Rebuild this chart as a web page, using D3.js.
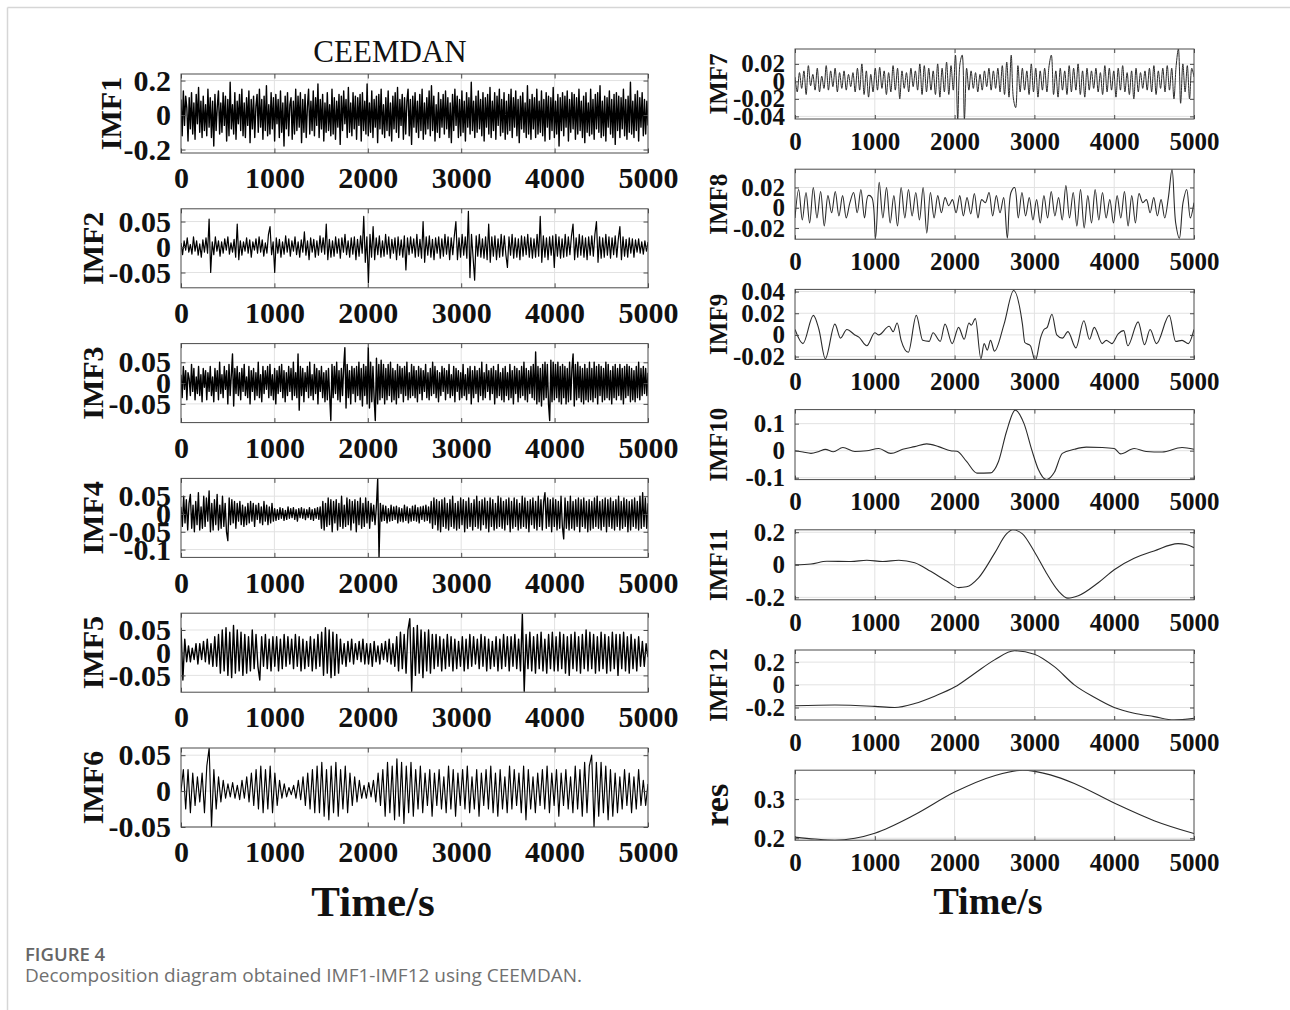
<!DOCTYPE html>
<html>
<head>
<meta charset="utf-8">
<script src="https://cdn.jsdelivr.net/npm/d3@7"></script>
<style>
  body { margin: 0; background: #fff; }
</style>
</head>
<body>
<div id="chart"></div>
<script>
// x axis ticks (time in s)
const xTicks = [0, 1000, 2000, 3000, 4000, 5000];

// IMF1..IMF8: evenly sampled over 0..5000 s
const imf1 = [
  .09,-.12,.14,-.06,.11,.04,-.15,.1,-.08,.13,-.11,.07,-.14,.12,-.05,.16,-.1,.08,-.13,.11,-.09,.06,-.12,.15,-.07,
  .1,-.13,.08,-.18,.12,-.09,.05,.14,-.11,.07,-.1,.13,-.06,.11,-.15,.09,-.12,.19,-.08,.06,-.11,.13,-.14,.08,-.05,
  .12,-.09,.15,-.12,.07,-.13,.1,-.06,.14,-.16,.09,-.08,.11,-.13,.05,.12,-.1,.15,-.07,.09,-.14,.11,-.09,.17,-.12,
  .06,-.11,.13,-.08,.1,-.15,.12,-.05,.09,-.13,.14,-.1,.07,-.18,.11,-.08,.13,-.12,.06,.1,-.14,.08,-.11,.15,-.09,
  .11,-.07,.13,-.16,.09,-.1,.12,-.13,.05,.15,-.11,.08,-.09,.14,-.12,.1,-.06,.18,-.13,.09,-.08,.12,-.15,.07,-.1,
  .13,-.09,.06,-.12,.15,-.11,.1,-.14,.08,-.07,.12,-.17,.11,-.09,.14,-.05,.09,-.13,.16,-.1,.07,-.12,.13,-.08,.11,
  -.14,.1,-.06,.12,-.15,.13,-.09,.08,-.11,.18,-.12,.07,-.1,.14,-.13,.09,-.07,.11,-.16,.12,-.08,.15,-.11,.06,-.13,
  .1,-.09,.14,-.12,.07,-.15,.11,-.08,.13,-.1,.16,-.13,.09,-.06,.12,-.14,.1,-.11,.08,.15,-.12,.09,-.17,.11,-.07,
  .13,-.1,.08,-.13,.12,-.09,.15,-.14,.07,-.11,.1,-.08,.14,-.12,.17,-.09,.11,-.15,.06,-.1,.13,-.13,.09,-.07,.12,
  -.11,.14,-.08,.1,-.13,.07,-.16,.12,-.09,.15,-.06,.11,-.13,.09,-.12,.14,-.1,.08,-.15,.13,-.07,.1,-.11,.19,-.09,
  .08,-.13,.11,-.1,.14,-.08,.09,-.12,.13,-.15,.1,-.07,.12,-.11,.16,-.13,.08,-.09,.13,-.14,.11,-.06,.15,-.12,.09,
  -.1,.13,-.14,.08,-.11,.12,-.09,.15,-.13,.1,-.07,.14,-.12,.09,-.16,.11,-.08,.13,-.1,.07,-.13,.17,-.11,.09,-.14,
  .12,-.08,.1,-.13,.15,-.11,.08,-.1,.14,-.12,.09,-.15,.13,-.07,.11,-.14,.1,-.09,.16,-.13,.08,-.11,.12,-.18,.1,
  -.09,.13,-.12,.11,-.07,.14,-.15,.09,-.1,.13,-.08,.12,-.14,.1,-.11,.15,-.09,.08,-.13,.11,-.16,.13,-.1,.07,-.12,
  .15,-.11,.09,-.14,.12,-.08,.13,-.1,.17,-.13,.08,-.12,.11,-.15,.1,-.07,.14,-.11,.09,-.13,.12,-.17,.13,-.09,.11,
  -.13,.1,-.08,.15,-.12,.09,-.14,.11,-.1,.19,-.11,.08,-.13,.12,-.09,.14,-.15,.1,-.07,.13,-.12,.09,-.11,.08,-.06
];
const imf2 = [
  .008,-.015,.012,-.006,.018,-.01,.005,-.014,.02,-.008,.012,-.016,.006,-.02,.014,-.01,.018,-.012,.055,-.05,.01,-.015,.02,-.008,.012,
  -.018,.01,-.012,.016,-.006,.02,-.014,.008,-.01,.015,-.02,.045,-.025,.012,-.016,.01,-.008,.018,-.012,.014,-.02,.01,-.006,.016,-.012,
  .02,-.01,.014,-.018,.008,-.012,.025,.04,-.015,.01,-.05,.018,-.012,.015,-.02,.01,-.014,.022,-.01,.016,-.018,.012,-.008,.02,-.015,
  .01,-.02,.014,-.01,.03,-.016,.012,-.025,.018,-.01,.015,-.02,.012,-.016,.022,-.01,.018,-.014,.045,-.025,.015,-.02,.012,-.018,.02,
  -.012,.016,-.022,.018,-.01,.025,-.015,.012,-.02,.018,-.014,.02,-.025,.015,-.018,.022,-.012,.06,-.03,.02,-.07,.025,-.02,.04,-.025,
  .018,-.015,.022,-.02,.012,-.018,.025,-.014,.02,-.022,.015,-.012,.018,-.025,.02,-.016,.014,-.02,.022,-.045,.018,-.015,.02,-.012,.016,
  -.02,.025,-.018,.015,-.022,.05,-.03,.02,-.016,.022,-.02,.015,-.025,.018,-.012,.02,-.022,.016,-.018,.025,-.014,.02,-.025,.018,-.015,
  .022,.05,-.025,.018,-.02,.025,-.016,.02,-.022,.07,-.06,.025,-.02,-.065,.022,-.018,.025,-.02,.016,-.022,.02,-.025,.045,-.03,.02,
  -.018,.022,-.025,.016,-.02,.025,-.018,.022,-.015,-.04,.02,-.016,.025,-.022,.018,-.02,.016,-.025,.022,-.018,.02,-.015,.025,-.02,.018,
  -.022,.016,-.02,.025,-.018,.06,-.03,.022,-.02,.018,-.025,.02,-.016,.022,-.04,.025,-.018,.02,-.022,.016,-.02,.025,-.018,.02,-.015,
  .022,.045,-.025,.018,-.02,.025,-.016,.022,-.02,.018,-.025,.02,-.016,.022,-.018,.025,.05,-.03,.02,-.022,.018,-.02,.025,-.016,.02,
  -.022,.018,-.015,.022,-.02,.016,.04,-.025,.02,-.018,.015,-.02,.018,-.012,.016,-.02,.014,-.01,.016,-.012,.01,-.014,.012,-.008,.01
];
const imf3 = [
  .02,-.035,.04,-.015,.03,-.04,.025,.01,-.03,.045,-.02,.035,-.04,.015,-.025,.04,-.03,.02,-.045,.035,-.01,.03,-.04,.025,-.02,
  .04,-.03,.015,-.045,.035,-.02,.03,-.04,.05,-.025,.02,-.035,.04,-.015,.03,-.05,.045,-.03,.02,.07,-.055,.035,-.025,.04,-.03,
  .025,-.04,.035,-.02,.045,-.03,.015,-.035,.04,-.05,.03,-.02,.035,-.04,.025,-.03,.05,-.035,.02,-.045,.04,-.025,.03,-.015,.04,
  -.035,.045,-.03,.02,-.04,.035,-.05,.03,-.025,.04,-.02,.045,-.035,.03,-.045,.025,-.03,.04,-.02,.035,-.04,.05,-.03,.025,-.035,
  .07,-.065,.04,-.03,.035,-.045,.025,-.02,.04,-.035,.05,-.03,.02,-.04,.045,-.025,.035,-.05,.03,-.02,.04,-.035,.025,-.045,.03,
  -.04,.035,-.03,-.09,.045,-.035,.04,-.025,.05,-.04,.03,-.045,.035,-.03,.04,.085,-.06,.045,-.035,.03,-.05,.04,-.025,.035,-.045,
  .04,-.03,.05,-.04,.035,-.055,.045,-.03,.04,-.05,.085,-.06,.05,-.045,.04,-.035,-.09,.06,-.05,.045,-.04,.055,-.035,.045,-.05,
  .035,-.04,.045,-.03,.05,-.045,.035,-.04,.03,-.05,.045,-.035,.04,-.025,.035,-.045,.04,-.03,.05,-.04,.025,-.035,.045,-.03,.04,
  -.035,.03,-.045,.04,-.025,.035,-.04,.03,-.02,.045,-.035,.025,-.04,.035,-.03,.05,-.025,.04,-.035,.03,-.045,.025,-.03,.04,-.02,
  .035,-.04,.03,-.025,.045,-.035,.02,-.03,.04,-.045,.035,-.02,.03,-.04,.025,-.035,.045,-.03,.02,-.04,.035,-.025,.04,-.05,.03,
  -.035,.04,-.025,.03,-.045,.035,-.03,.05,-.04,.025,-.035,.045,-.02,.03,-.04,.035,-.025,.04,-.05,.03,-.035,.045,-.03,.025,-.04,
  .035,-.045,.04,-.03,.025,-.04,.045,-.035,.03,-.05,.04,-.025,.035,-.045,.03,-.035,.04,-.03,.05,-.04,.035,-.045,.03,-.025,.04,
  -.035,.045,-.04,.075,-.05,.04,-.045,.035,-.055,.045,-.04,.05,-.035,.045,-.05,-.09,.055,-.045,.05,-.04,.045,-.035,.05,-.045,.04,
  -.05,.045,-.035,.04,-.05,.035,-.045,.05,-.04,.035,.07,-.055,.045,-.04,.05,-.035,.04,-.045,.035,-.05,.045,-.04,.035,-.045,.05,
  -.04,.035,-.045,.05,-.035,.04,-.05,.045,-.03,.04,-.045,.035,-.04,.05,-.035,.045,-.04,.03,-.05,.04,-.035,.045,-.04,.035,-.03,
  .045,-.04,.035,-.05,.04,-.035,.045,-.03,.04,-.045,.035,-.04,.03,-.045,.04,-.035,.05,-.04,.035,-.03,.04,-.025,.035,-.03,.025
];
const imf4 = [
  .02,-.035,.05,-.025,.04,-.045,.03,.055,-.04,.025,-.05,.035,-.03,.06,-.045,.02,-.04,.05,-.035,.045,-.02,.065,-.05,.03,-.045,
  .04,-.03,.055,-.045,.025,-.04,.05,-.035,.03,-.05,-.075,.045,-.03,.04,-.025,.035,-.04,.03,-.02,.035,-.03,.025,-.035,.02,-.03,
  .03,-.025,.035,-.02,.03,-.035,.025,-.015,.03,-.025,.02,-.03,.035,-.02,.025,-.03,.02,-.025,.03,-.02,.015,-.018,.012,-.015,.018,
  -.012,.015,-.018,.01,-.015,.02,-.012,.015,-.01,.018,-.015,.012,-.02,.015,-.01,.018,-.012,.014,-.016,.012,-.01,.018,-.015,.012,-.018,
  .015,-.012,.018,-.015,.02,-.04,.035,-.045,.03,-.035,.045,-.03,.04,-.05,.035,-.025,.04,-.045,.03,-.035,.05,-.04,.025,-.035,.045,
  -.03,.04,-.045,.035,-.025,.04,-.05,.035,-.03,.045,-.04,.03,-.035,.045,-.025,.035,-.04,.03,-.02,.025,-.03,.02,.1,-.122,.03,
  -.02,.025,-.018,.022,-.025,.015,-.02,.025,-.018,.02,-.015,.022,-.025,.018,-.02,.015,-.022,.025,-.018,.02,-.025,.015,-.02,.022,-.018,
  .025,-.02,.018,-.025,.02,-.015,.022,-.02,.025,-.018,.02,-.025,.035,-.04,.045,-.03,.04,-.045,.035,-.05,.04,-.035,.045,-.04,.03,
  -.045,.04,-.035,.05,-.04,.03,-.045,.035,-.04,.045,-.03,.04,-.05,.035,-.04,.045,-.035,.03,-.045,.04,-.035,.05,-.04,.035,-.045,
  .04,-.03,.045,-.04,.035,-.05,.045,-.035,.04,-.045,.03,-.04,.05,-.035,.045,-.04,.035,-.045,.04,-.03,.045,-.05,.035,-.04,.045,
  -.035,.04,-.045,.03,-.04,.05,-.035,.045,-.04,.035,-.05,.04,-.03,.045,-.04,.035,-.045,.05,-.035,.04,-.045,.035,.06,-.04,.045,
  -.035,.04,-.05,.045,-.035,.04,-.045,.035,-.04,.05,-.035,-.07,.045,-.04,.035,-.045,.05,-.04,.035,-.045,.04,-.035,.045,-.05,.04,
  -.035,.045,-.04,.035,-.05,.04,-.045,.035,-.04,.045,-.035,.05,-.04,.035,-.045,.04,-.035,.045,-.05,.04,-.035,.045,-.04,.035,-.045,
  .04,-.035,.05,-.045,.035,-.04,.045,-.035,.04,-.05,.035,-.045,.04,-.035,.045,-.04,.035,-.045,.05,-.04,.06,-.035,.045,-.04,.03
];
const imf5 = [
  .055,-.06,.03,-.02,.015,-.02,.01,-.015,.02,-.025,.02,-.015,.025,-.02,.03,-.025,.02,-.03,.035,-.03,.04,-.045,.05,-.04,.055,
  -.05,.045,-.055,.06,-.045,.05,-.04,.045,-.05,.04,-.045,.035,-.04,.05,-.035,.04,-.03,-.06,.035,-.03,.04,-.035,.03,-.04,.035,
  -.03,.035,-.04,.03,-.035,.04,-.03,.035,-.025,.03,-.035,.04,-.03,.035,-.04,.03,-.035,.025,-.03,.035,-.04,.03,-.035,.04,-.03,
  .045,-.05,.055,-.045,.05,-.055,.045,-.05,.04,-.045,.03,-.025,.02,-.03,.025,-.02,.03,-.025,.02,-.015,.025,-.02,.03,-.025,.02,
  -.025,.02,-.03,.025,-.02,.015,-.025,.02,-.015,.025,-.02,.03,-.025,.02,-.03,.035,-.04,.045,-.035,.04,-.045,.05,.075,-.085,.055,
  -.05,.06,-.045,.05,-.055,.045,-.04,.05,-.045,.04,-.035,.04,-.03,.035,-.04,.03,-.035,.04,-.03,.035,-.04,.03,-.035,.025,-.03,
  .035,-.04,.03,-.035,.04,-.03,.035,-.025,.03,-.035,.04,-.03,.035,-.04,.03,-.035,.025,-.03,.035,-.04,.03,-.035,.04,-.03,.035,
  -.04,.035,-.03,.04,-.035,.03,-.04,.085,-.085,.04,-.035,.045,-.04,.035,-.045,.04,-.035,.045,-.04,.03,-.045,.04,-.035,.045,-.04,
  .035,-.04,.045,-.035,.04,-.045,.035,-.05,.04,-.035,.045,-.04,.035,-.045,.04,-.035,.05,-.04,.045,-.035,.04,-.045,.035,-.04,.045,
  -.035,.04,-.045,.035,-.04,.045,-.035,.04,-.05,.04,-.035,.045,-.04,.035,-.045,.04,-.035,.03,-.04,.035,-.03,.025,-.03,.02,-.01
];
const imf6 = [
  0,.03,-.025,.03,-.03,.025,-.02,.02,-.015,.025,-.03,.035,.06,-.05,.03,-.025,.02,-.015,.015,-.01,
  .01,-.008,.012,-.01,.008,-.012,.015,-.01,.02,-.015,.025,-.02,.03,-.025,.035,-.03,.03,-.025,.035,-.03,
  .025,-.02,.015,-.01,.01,-.008,.005,-.005,.008,-.01,.015,-.012,.02,-.02,.025,-.025,.03,-.03,.035,-.03,
  .04,-.035,.03,-.04,.035,-.03,.04,-.035,.03,-.025,.035,-.03,.025,-.02,.02,-.015,.015,-.01,.008,-.01,
  .012,-.008,.015,-.015,.025,-.02,.03,-.035,.04,-.03,.035,-.04,.045,-.035,.04,-.045,.035,-.03,.04,-.035,
  .03,-.025,.035,-.03,.025,-.02,.03,-.035,.025,-.02,.03,-.025,.02,-.03,.035,-.025,.03,-.035,.025,-.02,
  .03,-.025,.035,-.03,.02,-.025,.03,-.035,.025,-.02,.03,-.025,.035,-.03,.025,-.035,.03,-.025,.02,-.03,
  .035,-.025,.03,-.02,.025,-.03,.035,-.04,.03,-.025,.02,-.03,.025,-.02,.03,-.025,.035,-.03,.025,-.02,
  .03,-.035,.025,-.02,.03,-.025,.02,-.03,.035,-.025,.03,-.035,.04,-.03,.035,.05,-.05,.04,-.035,.04,
  -.03,.035,-.04,.03,-.035,.025,-.03,.02,-.025,.03,-.02,.025,-.03,.02,-.025,.03,-.02,.015,-.02,.01
];
const imf7 = [
  .005,-.012,.01,-.008,.012,-.015,.018,-.005,.008,-.01,.015,-.012,.006,-.008,.018,-.01,.012,-.006,.015,-.012,
  .01,-.008,.012,-.01,.008,-.006,.01,-.012,.015,-.01,.02,-.015,.012,-.018,.008,-.012,.015,-.01,.016,-.008,
  .012,-.015,.01,-.012,.018,-.01,.015,-.02,.012,-.008,.01,-.012,.015,-.006,.012,-.01,.02,-.015,.018,-.012,
  .015,-.01,.012,-.015,.02,-.018,.015,-.012,.022,-.015,.018,-.01,.03,-.043,.02,.03,-.043,.015,-.01,.012,
  -.008,.01,-.012,.008,-.01,.012,-.006,.015,-.01,.012,-.008,.015,-.012,.018,-.015,.022,-.018,.03,-.02,-.03,
  .018,-.012,.015,-.01,.012,-.015,.02,-.012,.015,-.018,.012,-.01,.015,-.012,.018,.03,-.015,.012,-.018,.015,
  -.01,.012,-.015,.018,-.012,.015,-.01,.02,-.015,.012,-.018,.015,-.01,.012,-.008,.015,-.012,.01,-.015,.018,
  -.012,.015,-.01,.012,-.018,.015,-.01,.018,-.012,.01,-.015,.012,-.02,.015,-.012,.01,-.008,.012,-.01,.015,
  -.012,.018,-.015,.012,-.008,.015,-.012,.018,-.01,.015,-.02,.018,.037,-.025,.02,-.012,.018,-.02,.015,.005
];
const imf8 = [
  -.01,.018,-.012,.015,-.015,.02,-.01,.016,-.018,.012,
  -.005,.016,-.008,.012,-.01,.005,.015,-.005,.018,-.01,
  .012,.01,-.03,.025,-.01,.02,-.015,.012,-.018,.02,
  -.01,.018,-.008,.015,-.012,.02,-.025,.015,-.01,.012,
  -.005,.01,.002,.008,-.005,.012,-.008,.01,-.006,.014,
  -.01,.008,.005,.015,-.008,.012,-.005,.01,-.03,.015,
  .02,-.01,.015,-.008,.01,-.012,.008,-.015,.012,-.01,
  .016,-.008,.01,-.012,.022,-.01,.015,-.018,.018,-.02,
  .012,-.015,.018,-.012,.015,-.01,.008,-.015,.012,-.01,
  .016,-.018,.012,-.015,.014,.005,.008,-.005,.01,-.008,
  .008,-.01,.01,.038,-.015,-.03,.005,.018,-.01,.005
];

// IMF9..res: [time, value] read at turning points
const imf9 = [[0,.005],[100,-.008],[230,.018],[300,.005],[380,-.022],[500,.01],[570,-.003],[650,.005],[750,0],[800,-.002],
  [900,-.01],[1000,.002],[1050,0],[1180,.008],[1230,.003],[1280,.011],[1330,-.005],[1420,-.016],[1520,.018],[1600,-.005],
  [1680,-.006],[1730,.002],[1820,-.006],[1880,.01],[1970,-.008],[2050,.007],[2120,-.004],[2180,.011],[2210,.009],[2260,.015],
  [2330,-.022],[2370,-.008],[2410,-.014],[2450,-.005],[2500,-.015],[2620,.01],[2740,.041],[2850,.01],[2880,-.007],[2950,-.01],
  [3010,-.024],[3080,-.002],[3120,.005],[3160,.007],[3220,.019],[3280,0],[3350,-.003],[3420,.003],[3520,-.012],[3620,.013],
  [3690,-.004],[3750,.007],[3850,-.008],[3900,-.005],[3970,-.008],[4050,.001],[4120,.004],[4170,-.01],[4300,.012],[4380,-.009],
  [4450,.005],[4530,-.008],[4690,.018],[4770,-.006],[4850,-.005],[4930,-.008],[5000,.005]];
const imf10 = [[0,0],[100,-.005],[200,-.01],[300,-.003],[380,.005],[480,-.004],[600,.012],[750,-.003],[900,0],[1050,.008],
  [1200,-.01],[1350,.005],[1500,.015],[1650,.025],[1800,.015],[1950,0],[2030,-.002],[2150,-.04],[2280,-.083],[2450,-.082],
  [2550,-.04],[2650,.07],[2760,.15],[2870,.1],[2970,0],[3050,-.07],[3150,-.107],[3250,-.08],[3350,-.01],[3500,.005],
  [3650,.013],[3850,.012],[4000,.008],[4080,-.012],[4250,.008],[4400,-.003],[4600,-.005],[4850,.012],[5000,.005]];
const imf11 = [[0,0],[200,.005],[400,.022],[700,.02],[900,.028],[1100,.02],[1300,.028],[1500,.012],[1700,-.04],[1900,-.1],
  [2050,-.14],[2150,-.135],[2300,-.08],[2500,.07],[2650,.19],[2730,.215],[2850,.19],[3000,.08],[3150,-.05],[3300,-.16],
  [3420,-.205],[3550,-.19],[3800,-.11],[4000,-.03],[4250,.04],[4500,.085],[4800,.13],[4900,.125],[5000,.105]];
const imf12 = [[0,-.185],[500,-.178],[1000,-.19],[1250,-.2],[1500,-.165],[1750,-.1],[2000,-.02],[2250,.1],[2500,.22],
  [2750,.3],[3000,.27],[3250,.16],[3500,0],[3750,-.11],[4000,-.2],[4250,-.25],[4500,-.28],[4750,-.31],[5000,-.295]];
const res = [[0,.203],[250,.198],[500,.195],[750,.2],[1000,.213],[1500,.26],[2000,.318],[2500,.36],[2850,.374],
  [3200,.362],[3500,.34],[4000,.29],[4500,.245],[5000,.212]];

// y limits and ticks per panel
const leftPanels = [
  { label: "IMF1", values: imf1, domain: [-0.22, 0.238], ticks: [-0.2, 0, 0.2] },
  { label: "IMF2", values: imf2, domain: [-0.08, 0.075], ticks: [-0.05, 0, 0.05] },
  { label: "IMF3", values: imf3, domain: [-0.095, 0.095], ticks: [-0.05, 0, 0.05] },
  { label: "IMF4", values: imf4, domain: [-0.122, 0.1], ticks: [-0.1, -0.05, 0, 0.05] },
  { label: "IMF5", values: imf5, domain: [-0.087, 0.087], ticks: [-0.05, 0, 0.05] },
  { label: "IMF6", values: imf6, domain: [-0.05, 0.06], ticks: [-0.05, 0, 0.05] }
];
const rightPanels = [
  { label: "IMF7", values: imf7, domain: [-0.043, 0.037], ticks: [-0.04, -0.02, 0, 0.02] },
  { label: "IMF8", values: imf8, domain: [-0.031, 0.038], ticks: [-0.02, 0, 0.02] },
  { label: "IMF9", points: imf9, domain: [-0.0226, 0.042], ticks: [-0.02, 0, 0.02, 0.04] },
  { label: "IMF10", points: imf10, domain: [-0.107, 0.152], ticks: [-0.1, 0, 0.1] },
  { label: "IMF11", points: imf11, domain: [-0.215, 0.215], ticks: [-0.2, 0, 0.2] },
  { label: "IMF12", points: imf12, domain: [-0.31, 0.307], ticks: [-0.2, 0, 0.2] },
  { label: "res", points: res, domain: [0.195, 0.374], ticks: [0.2, 0.3] }
];

const serif = "'Liberation Serif', 'Times New Roman', serif";
const width = 1290, height = 1010;

const svg = d3.select("#chart").append("svg")
  .attr("width", width)
  .attr("height", height)
  .style("display", "block");

// page frame
svg.append("line").attr("x1", 7.5).attr("x2", width).attr("y1", 7.5).attr("y2", 7.5)
  .attr("stroke", "#d6d6d6").attr("stroke-width", 1.5);
svg.append("line").attr("x1", 7.5).attr("x2", 7.5).attr("y1", 7.5).attr("y2", height)
  .attr("stroke", "#d6d6d6").attr("stroke-width", 1.5);

const leftCol = {
  left: 181, right: 648, top: 74, pitch: 134.8, h: 79,
  tickFont: 30, labelFont: 30, xPad: 14, yPad: 10, tick: 4.5,
  stroke: "#000", lw: [1.4, 1.2, 1.4, 1.35, 1.4, 1.15],
  labelX: [121, 103, 103, 103, 103, 103]
};
const rightCol = {
  left: 795, right: 1194, top: 49, pitch: 120.2, h: 70,
  tickFont: 25, labelFont: 25, xPad: 13, yPad: 10, tick: 4,
  stroke: "#2b2b2b", lw: [1, 1.1, 1.1, 1.1, 1.1, 1.1, 1.1],
  labelX: [727, 727, 727, 727, 727, 727, 728]
};

let clipId = 0;

function drawColumn(panels, col) {
  const x = d3.scaleLinear().domain([0, 5000]).range([col.left, col.right]);

  panels.forEach((p, k) => {
    const top = col.top + k * col.pitch;
    const bottom = top + col.h;
    const y = d3.scaleLinear().domain(p.domain).range([bottom, top]);
    const g = svg.append("g");

    // grid
    g.append("g").selectAll("line").data(xTicks.slice(1, -1)).join("line")
      .attr("x1", d => x(d)).attr("x2", d => x(d))
      .attr("y1", top).attr("y2", bottom)
      .attr("stroke", "#e2e2e2").attr("stroke-width", 1);
    g.append("g").selectAll("line").data(p.ticks).join("line")
      .attr("x1", col.left).attr("x2", col.right)
      .attr("y1", d => y(d)).attr("y2", d => y(d))
      .attr("stroke", "#e2e2e2").attr("stroke-width", 1);

    // signal
    const id = "clip" + (clipId++);
    g.append("clipPath").attr("id", id).append("rect")
      .attr("x", col.left).attr("y", top)
      .attr("width", col.right - col.left).attr("height", col.h);

    let pts, curve;
    if (p.values) {
      const n = p.values.length;
      pts = p.values.map((v, i) => [i * 5000 / (n - 1), v]);
      curve = n < 190 ? d3.curveCatmullRom : d3.curveLinear;
    } else {
      pts = p.points;
      curve = d3.curveMonotoneX;
    }
    const line = d3.line().x(d => x(d[0])).y(d => y(d[1])).curve(curve);
    g.append("path")
      .attr("clip-path", `url(#${id})`)
      .attr("d", line(pts))
      .attr("fill", "none")
      .attr("stroke", col.stroke)
      .attr("stroke-width", col.lw[k])
      .attr("stroke-linejoin", "round");

    // box
    g.append("rect")
      .attr("x", col.left).attr("y", top)
      .attr("width", col.right - col.left).attr("height", col.h)
      .attr("fill", "none").attr("stroke", "#4a4a4a").attr("stroke-width", 1);

    // axes (ticks pointing inward, MATLAB style)
    const yAxis = g.append("g").attr("transform", `translate(${col.left},0)`)
      .call(d3.axisLeft(y).tickValues(p.ticks).tickFormat(d => String(d))
        .tickSizeInner(-col.tick).tickSizeOuter(0).tickPadding(col.yPad));
    const yAxisR = g.append("g").attr("transform", `translate(${col.right},0)`)
      .call(d3.axisRight(y).tickValues(p.ticks).tickFormat("")
        .tickSizeInner(-col.tick).tickSizeOuter(0));
    const xAxis = g.append("g").attr("transform", `translate(0,${bottom})`)
      .call(d3.axisBottom(x).tickValues(xTicks).tickFormat(d => String(d))
        .tickSizeInner(-col.tick).tickSizeOuter(0).tickPadding(col.xPad));
    const xAxisT = g.append("g").attr("transform", `translate(0,${top})`)
      .call(d3.axisTop(x).tickValues(xTicks).tickFormat("")
        .tickSizeInner(-col.tick).tickSizeOuter(0));

    [yAxis, yAxisR, xAxis, xAxisT].forEach(a => {
      a.select(".domain").remove();
      a.selectAll("line").attr("stroke", "#4a4a4a");
      a.selectAll("text")
        .attr("font-family", serif)
        .attr("font-weight", "bold")
        .attr("font-size", col.tickFont)
        .attr("fill", "#111");
    });

    // y label
    const lx = col.labelX[k];
    const ly = (top + bottom) / 2;
    g.append("text")
      .attr("transform", `translate(${lx},${ly}) rotate(-90)`)
      .attr("text-anchor", "middle")
      .attr("font-family", serif)
      .attr("font-weight", "bold")
      .attr("font-size", p.label === "res" ? 34 : col.labelFont)
      .attr("fill", "#111")
      .text(p.label);
  });
}

drawColumn(leftPanels, leftCol);
drawColumn(rightPanels, rightCol);

// titles
svg.append("text")
  .attr("x", 390).attr("y", 62)
  .attr("text-anchor", "middle")
  .attr("font-family", serif)
  .attr("font-size", 31)
  .attr("fill", "#111")
  .text("CEEMDAN");

svg.append("text")
  .attr("x", 373).attr("y", 916)
  .attr("text-anchor", "middle")
  .attr("font-family", serif)
  .attr("font-weight", "bold")
  .attr("font-size", 43)
  .attr("fill", "#111")
  .text("Time/s");

svg.append("text")
  .attr("x", 988).attr("y", 914)
  .attr("text-anchor", "middle")
  .attr("font-family", serif)
  .attr("font-weight", "bold")
  .attr("font-size", 38)
  .attr("fill", "#111")
  .text("Time/s");

// caption
svg.append("text")
  .attr("x", 25).attr("y", 961)
  .attr("font-family", "'Open Sans', sans-serif")
  .attr("font-weight", 600)
  .attr("font-size", 18.5)
  .attr("fill", "#666")
  .text("FIGURE 4");

svg.append("text")
  .attr("x", 25).attr("y", 982)
  .attr("font-family", "'Open Sans', sans-serif")
  .attr("font-size", 19)
  .attr("fill", "#707070")
  .text("Decomposition diagram obtained IMF1-IMF12 using CEEMDAN.");
</script>
</body>
</html>
